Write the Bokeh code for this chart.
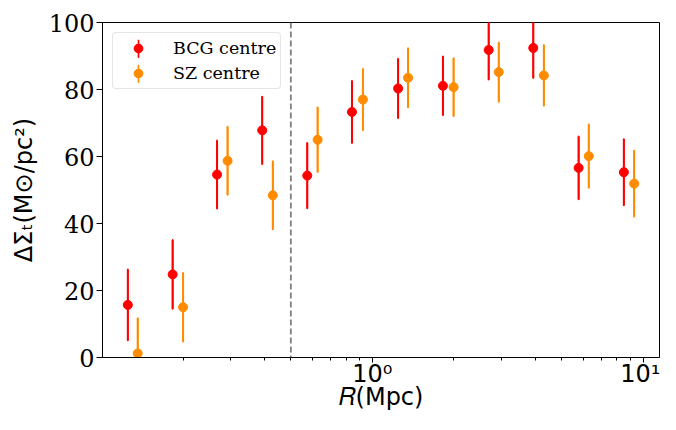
import numpy as np
from bokeh.plotting import figure
from bokeh.models import (Range1d, FixedTicker, CustomJSTickFormatter, Span,
                          Legend, LegendItem, ColumnDataSource)
from bokeh.embed import file_html
from bokeh.resources import INLINE

# ---- data ----
r_bcg = [0.125, 0.183, 0.267, 0.392, 0.575, 0.841, 1.245, 1.823, 2.69, 3.93, 5.78, 8.49]
r_sz = [0.136, 0.200, 0.292, 0.429, 0.628, 0.923, 1.355, 1.996, 2.93, 4.30, 6.30, 9.27]
ds_bcg = [15.7, 24.8, 54.6, 67.8, 54.3, 73.3, 80.3, 81.1, 91.8, 92.4, 56.6, 55.3]
err_bcg = [10.6, 10.3, 10.2, 10.1, 9.8, 9.3, 8.9, 8.8, 8.9, 9.0, 9.4, 9.9]
ds_sz = [1.2, 15.0, 58.7, 48.4, 65.0, 77.0, 83.5, 80.7, 85.2, 84.2, 60.1, 51.9]
err_sz = [10.6, 10.3, 10.2, 10.2, 9.7, 9.2, 8.9, 8.7, 8.9, 9.1, 9.5, 9.9]
series_labels = ["BCG centre", "SZ centre"]
series_colors = ["red", "darkorange"]
r_cut = 0.5
y_ticks = [0, 20, 40, 60, 80, 100]
x_major = [1, 10]
x_minor = [0.2, 0.3, 0.4, 0.5, 0.6, 0.7, 0.8, 0.9, 2, 3, 4, 5, 6, 7, 8, 9]

# matplotlib-like 5% margins in log space
lx = np.log10(np.array(r_bcg + r_sz))
lo, hi = lx.min(), lx.max()
pad = 0.05 * (hi - lo)

p = figure(width=660, height=414, x_axis_type="log",
           x_range=Range1d(10 ** (lo - pad), 10 ** (hi + pad)),
           y_range=Range1d(0, 100),
           output_backend="svg", toolbar_location=None,
           min_border_left=102, min_border_right=1,
           min_border_top=22, min_border_bottom=57)
p.xgrid.visible = False
p.ygrid.visible = False
p.outline_line_color = "black"
p.outline_line_width = 1
p.background_fill_color = "white"
p.border_fill_color = "white"

legend_items = []
for xs, ys, es, lab, col in [(r_bcg, ds_bcg, err_bcg, series_labels[0], series_colors[0]),
                             (r_sz, ds_sz, err_sz, series_labels[1], series_colors[1])]:
    ya = np.array(ys)
    ea = np.array(es)
    src = ColumnDataSource(dict(x=xs, y=ys, lo=ya - ea, hi=ya + ea, h=2 * ea))
    # hair-thin ellipse outline along the error bar: gives a vertical key in the legend
    eb = p.ellipse(x="x", y="y", width=0.01, width_units="screen", height="h",
                   source=src, fill_color=None, line_color=col, line_width=1.6)
    p.segment(x0="x", y0="lo", x1="x", y1="hi", source=src,
              line_color=col, line_width=2)
    sc = p.scatter(x="x", y="y", source=src, size=9,
                   fill_color=col, line_color=col)
    legend_items.append(LegendItem(label=lab, renderers=[eb, sc]))

p.add_layout(Span(location=r_cut, dimension="height", line_color="gray",
                  line_dash="6 3", line_width=1.8))

# axes
p.xaxis.ticker = FixedTicker(ticks=x_major, minor_ticks=x_minor)
p.xaxis.formatter = CustomJSTickFormatter(code="""
const e = Math.round(Math.log10(tick));
const sup = {"-1": "\\u207b\\u00b9", "0": "\\u2070", "1": "\\u00b9", "2": "\\u00b2"};
return "10" + sup[String(e)];
""")
p.yaxis.ticker = FixedTicker(ticks=y_ticks)

for ax in (p.xaxis[0], p.yaxis[0]):
    ax.axis_line_color = "black"
    ax.major_tick_line_color = "black"
    ax.minor_tick_line_color = "black"
    ax.major_tick_in = 0
    ax.minor_tick_in = 0
    ax.major_label_text_color = "black"
    ax.axis_label_text_color = "black"
    ax.axis_label_text_font = "DejaVu Sans"
    ax.axis_label_text_font_size = "24px"
    ax.axis_label_text_font_style = "normal"
    ax.major_label_text_font_size = "24px"

p.xaxis.major_tick_out = 5
p.xaxis.minor_tick_out = 3
p.xaxis.major_label_text_font = "DejaVu Sans"
p.xaxis.major_label_standoff = -3
p.xaxis.axis_label = "\U0001D445(Mpc)"
p.xaxis.axis_label_standoff = -8

p.yaxis.major_tick_out = 6
p.yaxis.major_label_text_font = "DejaVu Serif"
p.yaxis.major_label_standoff = 2
p.yaxis.axis_label = "\u0394\u03a3\u209c(M\u2299/pc\u00b2)"
p.yaxis.axis_label_standoff = 8

legend = Legend(items=legend_items, location="top_left", margin=10,
                padding=4, spacing=3, glyph_width=42, glyph_height=22,
                label_height=22, label_standoff=14,
                label_text_font="DejaVu Serif", label_text_font_size="17.5px",
                label_text_color="black",
                border_line_color="#cccccc", border_line_width=1,
                border_radius=4, background_fill_alpha=0.8)
p.add_layout(legend)

open("out.html", "w", encoding="utf-8").write(file_html(p, INLINE))
